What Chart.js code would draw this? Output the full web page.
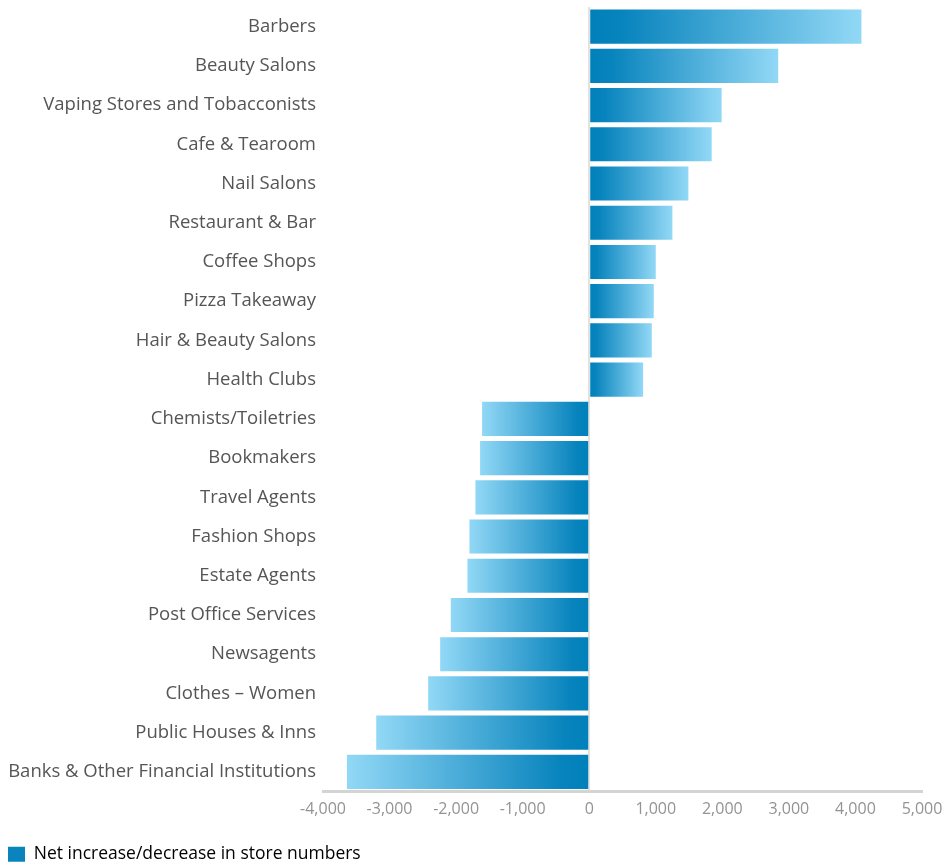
<!DOCTYPE html>
<html>
<head>
<meta charset="utf-8">
<script src="https://cdn.jsdelivr.net/npm/chart.js@4/dist/chart.umd.min.js"></script>
<style>
  html, body { margin: 0; padding: 0; background: #fff; }
  #wrap { width: 944px; height: 864px; }
</style>
</head>
<body>
<div id="wrap"><canvas id="myChart"></canvas></div>
<script>
'use strict';

let categories = ['Barbers', 'Beauty Salons', 'Vaping Stores and Tobacconists', 'Cafe & Tearoom', 'Nail Salons',
    'Restaurant & Bar', 'Coffee Shops', 'Pizza Takeaway', 'Hair & Beauty Salons', 'Health Clubs',
    'Chemists/Toiletries', 'Bookmakers', 'Travel Agents', 'Fashion Shops', 'Estate Agents',
    'Post Office Services', 'Newsagents', 'Clothes \u2013 Women', 'Public Houses & Inns',
    'Banks & Other Financial Institutions'];

let netChange = [4090, 2840, 1990, 1840, 1490, 1250, 1000, 970, 940, 810,
    -1610, -1640, -1710, -1800, -1830, -2080, -2240, -2420, -3200, -3640];

let seriesLabel = 'Net increase/decrease in store numbers';
let xMin = -4000;
let xMax = 5000;
let xStep = 1000;

// gradient goes dark at zero, light at the bar tip
function barGradient(context) {
    let chart = context.chart;
    if (!chart.chartArea || !chart.scales.x) {
        return '#0a86bf';
    }
    let xs = chart.scales.x;
    let x0 = xs.getPixelForValue(0);
    let x1 = xs.getPixelForValue(context.raw);
    if (x0 === x1) return '#0080ba';
    let g = chart.ctx.createLinearGradient(x0, 0, x1, 0);
    g.addColorStop(0, '#0080ba');
    g.addColorStop(0.12, '#0884bd');
    g.addColorStop(1, '#92d8f6');
    return g;
}

let ctx = document.getElementById('myChart').getContext('2d');
let myChart = new Chart(ctx, {
    type: 'bar',
    data: {
        labels: categories,
        datasets: [{
            label: seriesLabel,
            data: netChange,
            backgroundColor: barGradient,
            borderWidth: 0,
            barPercentage: 0.87,
            categoryPercentage: 1
        }]
    },
    options: {
        indexAxis: 'y',
        responsive: true,
        maintainAspectRatio: false,
        animation: false,
        layout: {
            padding: { top: 7, right: 22, bottom: -9, left: 0 }
        },
        plugins: {
            tooltip: { enabled: false },
            legend: {
                position: 'bottom',
                align: 'start',
                labels: {
                    boxWidth: 17,
                    boxHeight: 15,
                    padding: 8,
                    color: '#555',
                    font: { family: '"Open Sans", sans-serif', size: 17.5 },
                    generateLabels: function (chart) {
                        return [{
                            text: seriesLabel,
                            fillStyle: '#0a84bd',
                            strokeStyle: '#0a84bd',
                            lineWidth: 0,
                            datasetIndex: 0
                        }];
                    }
                }
            }
        },
        scales: {
            x: {
                min: xMin,
                max: xMax,
                border: { display: true, color: '#d4d4d4', width: 3 },
                grid: {
                    drawTicks: false,
                    color: function (c) {
                        return c.tick && c.tick.value === 0 ? '#e2e2e2' : 'rgba(0,0,0,0)';
                    },
                    lineWidth: 2
                },
                ticks: {
                    stepSize: xStep,
                    padding: 8,
                    color: '#939393',
                    font: { family: '"Open Sans", sans-serif', size: 16 },
                    callback: function (v) {
                        return v.toLocaleString('en-US');
                    }
                },
                afterFit: function (scale) {
                    scale.height = 46;
                    scale.paddingLeft = 0;
                    scale.paddingRight = 0;
                }
            },
            y: {
                border: { display: false },
                grid: { display: false, drawTicks: false },
                ticks: {
                    padding: 7,
                    color: '#555',
                    font: { family: '"Open Sans", sans-serif', size: 18.5 }
                },
                afterFit: function (scale) {
                    scale.width = 323;
                    scale.paddingTop = 0;
                    scale.paddingBottom = 0;
                }
            }
        }
    }
});
</script>
</body>
</html>
